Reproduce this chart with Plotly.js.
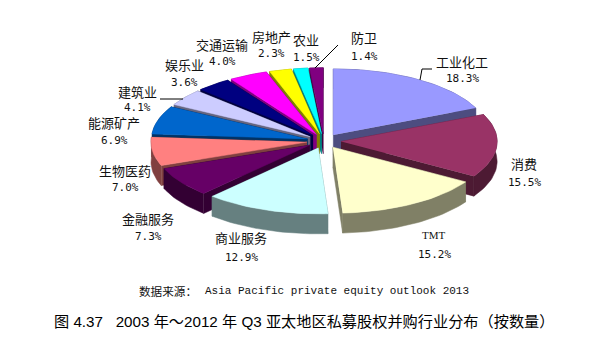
<!DOCTYPE html>
<html><head><meta charset="utf-8">
<script src="https://cdn.plot.ly/plotly-3.0.1.min.js"></script>
<style>html,body{margin:0;padding:0;background:#fff}#c{width:611px;height:355px}</style>
</head><body><div id="c"></div>
<script>
// data
var categories = ['工业化工','消费','TMT','商业服务','金融服务','生物医药','能源矿产','建筑业','娱乐业','交通运输','房地产','农业','防卫'];
var shares = [18.3,15.5,15.2,12.9,7.3,7.0,6.9,4.1,3.6,4.0,2.3,1.5,1.4];
var colors = ['#9999FF','#993366','#FFFFCC','#CCFFFF','#660066','#FF8080','#0066CC','#CCCCFF','#000080','#FF00FF','#FFFF00','#00FFFF','#800080'];
var sourceLabel = '数据来源：';
var sourceText = 'Asia Pacific private equity outlook 2013';
var chartTitle = '图 4.37   2003 年～2012 年 Q3 亚太地区私募股权并购行业分布（按数量）';

// label placement (page pixels): name x, name y, percent y
var labelX = [462,524,434,241,148,125,114,137,184,222,271,306,364];
var nameY  = [61,163,235,237,218,170,122,91,64,44,36,39,37];
var pctY   = [78,182,254,257,236,187,140,107,82,61,53,57,56];

// pie geometry
var cx=324, cy=141, rx=156, ry=66, depth=20, pull=0.11;
var cjk='"Noto Sans CJK SC"', mono='"Liberation Mono"', monoPct='"DejaVu Sans Mono"';

function shade(hex,f){
  var n=parseInt(hex.slice(1),16);
  return 'rgb('+Math.round((n>>16&255)*f)+','+Math.round((n>>8&255)*f)+','+Math.round((n&255)*f)+')';
}
var total=shares.reduce(function(a,b){return a+b;},0);
var slices=[], cum=0;
shares.forEach(function(v,i){
  var a0=cum/total*2*Math.PI; cum+=v; var a1=cum/total*2*Math.PI;
  var m=(a0+a1)/2;
  slices.push({i:i,a0:a0,a1:a1,m:m,ox:cx+Math.sin(m)*rx*pull,oy:cy-Math.cos(m)*ry*pull});
});
function arc(s,dy,rev){
  var n=Math.max(4,Math.ceil((s.a1-s.a0)/0.03)),p=[];
  for(var k=0;k<=n;k++){
    var a=s.a0+(s.a1-s.a0)*k/n;
    p.push([s.ox+Math.sin(a)*rx, s.oy-Math.cos(a)*ry+dy]);
  }
  return rev?p.reverse():p;
}
function poly(pts,color,name,hover){
  return {type:'scatter',mode:'lines',fill:'toself',fillcolor:color,
    x:pts.map(function(p){return p[0];}),y:pts.map(function(p){return p[1];}),
    line:{width:0.5,color:color},showlegend:false,name:name,
    hoverinfo:hover?'text':'skip',text:hover||''};
}
var traces=[];
// back slices first so that the front ones cover them
slices.slice().sort(function(a,b){return Math.cos(b.m)-Math.cos(a.m);}).forEach(function(s){
  var c=colors[s.i], w=shade(c,0.5), name=categories[s.i];
  var top=arc(s,0,false), low=arc(s,depth,true);
  var first=top[0], last=top[top.length-1];
  traces.push(poly([[s.ox,s.oy],first,[first[0],first[1]+depth],[s.ox,s.oy+depth]],w,name));
  traces.push(poly([[s.ox,s.oy],last,[last[0],last[1]+depth],[s.ox,s.oy+depth]],w,name));
  traces.push(poly(top.concat(low),w,name));
  traces.push(poly([[s.ox,s.oy]].concat(top),c,name,name+' '+shares[s.i].toFixed(1)+'%'));
});

var ann=[];
function txt(t,x,y,size,fam,anchor){
  ann.push({text:t,x:x,y:y,xref:'x',yref:'y',showarrow:false,xanchor:anchor||'center',yanchor:'middle',
    font:{family:fam,size:size,color:'#111'}});
}
categories.forEach(function(n,i){
  txt(n,labelX[i],nameY[i],n==='TMT'?11:13,n==='TMT'?'"Liberation Serif"':cjk);
  txt(shares[i].toFixed(1)+'%',labelX[i],pctY[i],11,monoPct);
});
txt(sourceLabel,137,291,11.6,cjk,'left');
txt(sourceText,203,291,11,mono,'left');

function leader(xs,ys){
  return {type:'scatter',mode:'lines',x:xs,y:ys,line:{color:'#000',width:1},hoverinfo:'skip',showlegend:false};
}
traces.push(leader([420,422,432],[80,69,69]));
traces.push(leader([160,183],[99,99]));
traces.push(leader([315,338],[68,45]));

var axis={visible:false,fixedrange:true,showgrid:false,zeroline:false};
Plotly.newPlot('c',traces,{
  width:611,height:355,margin:{l:0,r:0,t:0,b:0},
  paper_bgcolor:'#fff',plot_bgcolor:'#fff',showlegend:false,hovermode:'closest',
  xaxis:Object.assign({range:[0,611]},axis),
  yaxis:Object.assign({range:[355,0]},axis),
  title:{text:chartTitle,x:54/611,xanchor:'left',xref:'paper',y:1-322/355,yanchor:'middle',yref:'container',
    font:{family:'"Liberation Sans",'+cjk,size:15.2,color:'#000'}},
  annotations:ann
},{displayModeBar:false,staticPlot:false});
</script></body></html>
